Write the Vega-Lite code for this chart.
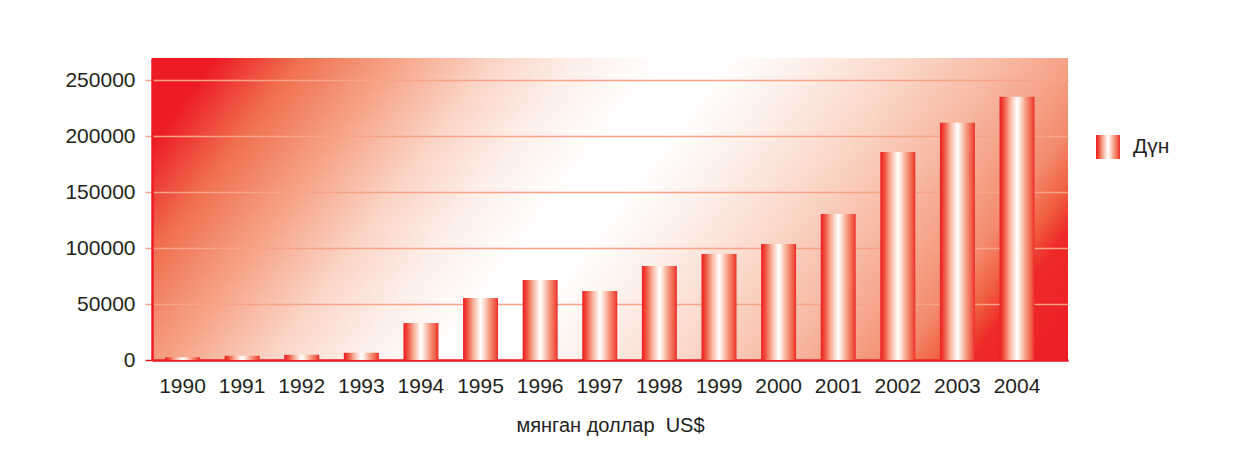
{
  "$schema": "https://vega.github.io/schema/vega-lite/v6.json",
  "autosize": {"type": "none"},
  "padding": {"left": 152, "top": 58, "right": 191, "bottom": 92},
  "width": 916,
  "height": 302,
  "background": "#ffffff",
  "view": {
    "stroke": null,
    "fill": {
      "gradient": "linear", "x1": 0, "y1": 0, "x2": 1.1755, "y2": 0.2906,
      "stops": [
        {"offset": 0, "color": "#ed1c24"},
        {"offset": 0.057, "color": "#ed1c24"},
        {"offset": 0.13, "color": "#f07050"},
        {"offset": 0.217, "color": "#f6a588"},
        {"offset": 0.3, "color": "#fbd4c6"},
        {"offset": 0.37, "color": "#fdeee8"},
        {"offset": 0.45, "color": "#ffffff"},
        {"offset": 0.5, "color": "#ffffff"},
        {"offset": 0.57, "color": "#fdf0ea"},
        {"offset": 0.655, "color": "#fbd9cb"},
        {"offset": 0.742, "color": "#f8bba5"},
        {"offset": 0.795, "color": "#f5a68c"},
        {"offset": 0.85, "color": "#f38a6c"},
        {"offset": 0.885, "color": "#f06040"},
        {"offset": 0.915, "color": "#ee2a28"},
        {"offset": 1, "color": "#ed1c24"}
      ]
    }
  },
  "data": {
    "values": [
      {"year": "1990", "value": 2500, "series": "Дүн"},
      {"year": "1991", "value": 3800, "series": "Дүн"},
      {"year": "1992", "value": 4700, "series": "Дүн"},
      {"year": "1993", "value": 6500, "series": "Дүн"},
      {"year": "1994", "value": 33000, "series": "Дүн"},
      {"year": "1995", "value": 55500, "series": "Дүн"},
      {"year": "1996", "value": 71600, "series": "Дүн"},
      {"year": "1997", "value": 61700, "series": "Дүн"},
      {"year": "1998", "value": 84100, "series": "Дүн"},
      {"year": "1999", "value": 94800, "series": "Дүн"},
      {"year": "2000", "value": 103800, "series": "Дүн"},
      {"year": "2001", "value": 130600, "series": "Дүн"},
      {"year": "2002", "value": 186000, "series": "Дүн"},
      {"year": "2003", "value": 212000, "series": "Дүн"},
      {"year": "2004", "value": 235300, "series": "Дүн"}
    ]
  },
  "mark": {
    "type": "bar",
    "fill": {
      "gradient": "linear", "x1": 0, "y1": 0, "x2": 1, "y2": 0,
      "stops": [
        {"offset": 0, "color": "#ed1c24"},
        {"offset": 0.12, "color": "#f0503c"},
        {"offset": 0.3, "color": "#f8b49e"},
        {"offset": 0.5, "color": "#ffffff"},
        {"offset": 0.58, "color": "#fde6dc"},
        {"offset": 0.76, "color": "#f6987e"},
        {"offset": 0.92, "color": "#f05a44"},
        {"offset": 1, "color": "#ed2a2a"}
      ]
    }
  },
  "encoding": {
    "x": {
      "field": "year", "type": "nominal", "sort": null,
      "scale": {"paddingInner": 0.413, "paddingOuter": 0.39, "align": 0.28},
      "axis": {
        "title": "мянган доллар\u00a0 US$",
        "titleFont": "Liberation Sans", "titleFontSize": 20, "titleFontWeight": "normal",
        "titleColor": "#231f20", "titlePadding": 19,
        "labelFont": "Liberation Sans", "labelFontSize": 21, "labelColor": "#231f20",
        "labelAngle": 0, "labelPadding": 15,
        "ticks": false, "domainColor": "#ed1c24", "domainWidth": 2.5, "grid": false
      }
    },
    "y": {
      "field": "value", "type": "quantitative",
      "scale": {"domain": [0, 270000], "nice": false},
      "axis": {
        "title": null, "values": [0, 50000, 100000, 150000, 200000, 250000],
        "format": "d",
        "labelFont": "Liberation Sans", "labelFontSize": 21, "labelColor": "#231f20",
        "labelPadding": 10,
        "tickColor": {"expr": "datum.value === 0 ? '#ed1c24' : '#f7a388'"},
        "tickSize": 7, "tickWidth": 1.5,
        "domainColor": "#ed1c24", "domainWidth": 2.5,
        "grid": true, "gridColor": "#f7a388", "gridWidth": 1.5
      }
    },
    "opacity": {
      "field": "series", "type": "nominal",
      "scale": {"type": "point", "range": [1, 1]},
      "legend": {
        "title": null, "orient": "none", "legendX": 944, "legendY": 77,
        "symbolType": "square", "symbolSize": 576, "symbolStrokeWidth": 0,
        "labelFont": "Liberation Sans", "labelFontSize": 21, "labelColor": "#231f20",
        "labelOffset": 13, "padding": 0,
        "encode": {
          "symbols": {
            "update": {
              "opacity": {"value": 1},
              "fill": {"value": {
                "gradient": "linear", "x1": 0, "y1": 0, "x2": 1, "y2": 0,
                "stops": [
                  {"offset": 0, "color": "#ed1c24"},
                  {"offset": 0.12, "color": "#f0503c"},
                  {"offset": 0.3, "color": "#f8b49e"},
                  {"offset": 0.5, "color": "#ffffff"},
                  {"offset": 0.58, "color": "#fde6dc"},
                  {"offset": 0.76, "color": "#f6987e"},
                  {"offset": 0.92, "color": "#f05a44"},
                  {"offset": 1, "color": "#ed2a2a"}
                ]
              }}
            }
          }
        }
      }
    }
  }
}
